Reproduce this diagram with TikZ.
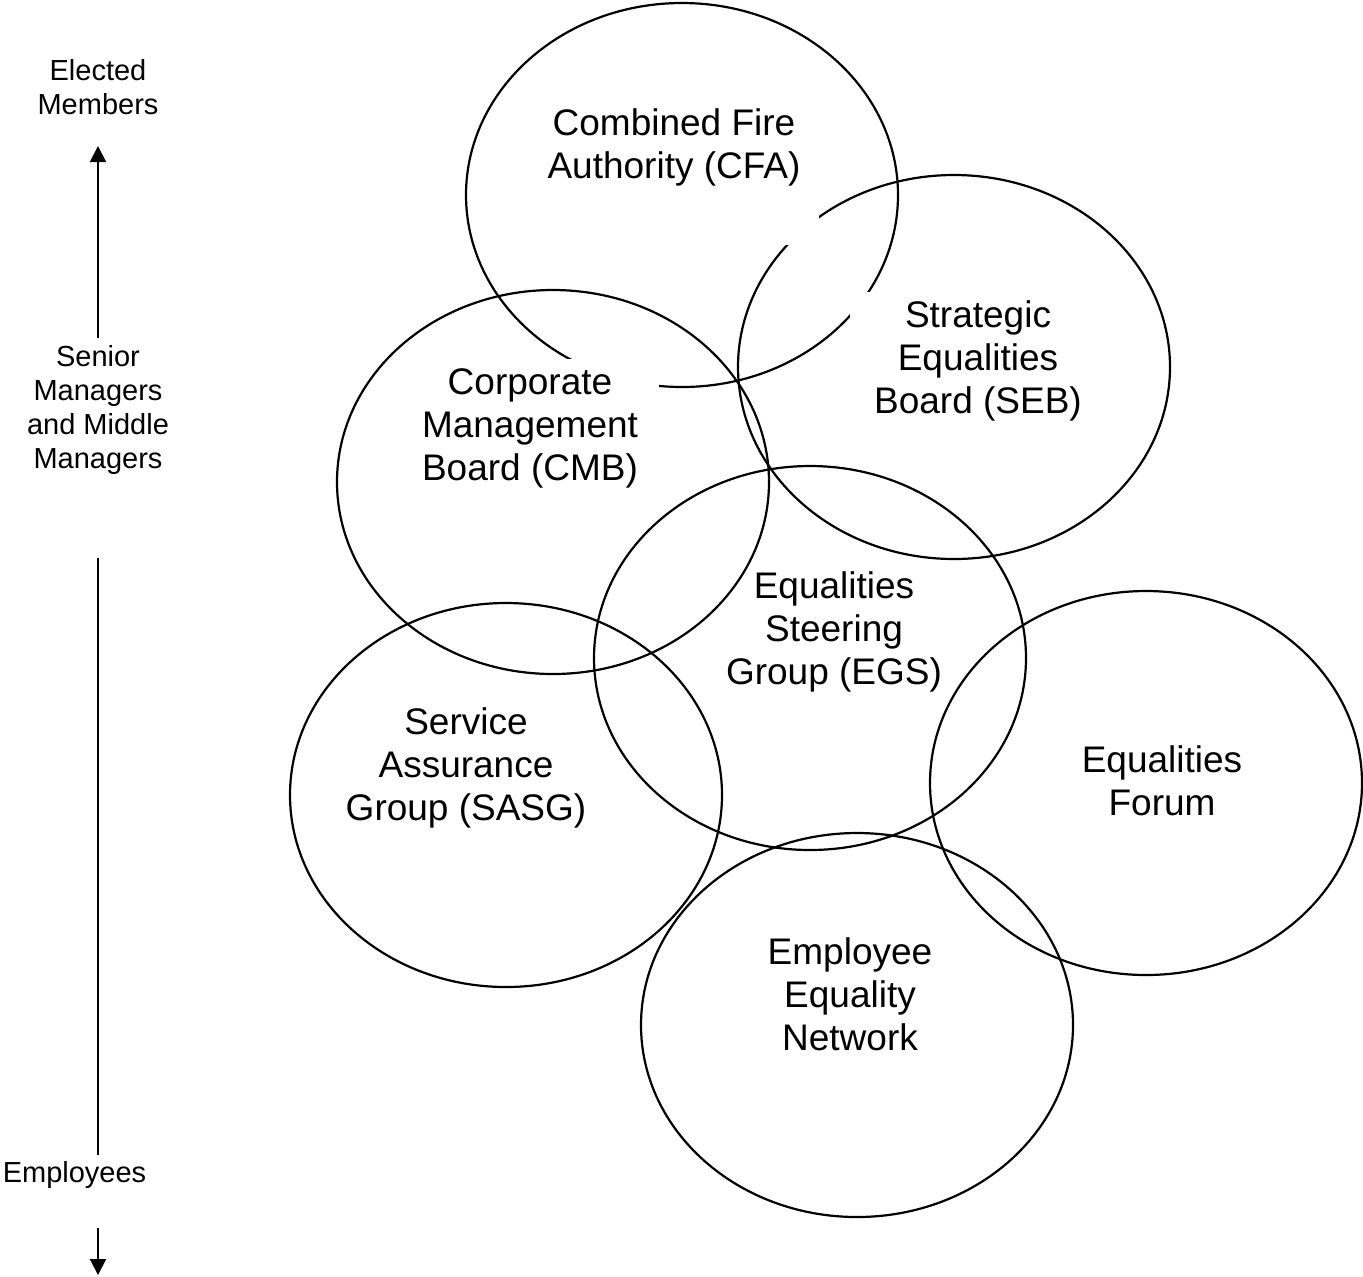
\documentclass[tikz,border=0pt]{standalone}
\usepackage{fontspec}
\setmainfont{Liberation Sans}
\usetikzlibrary{shapes.geometric,arrows.meta}
\begin{document}
\begin{tikzpicture}[x=0.5pt,y=-0.5pt,
  bubble/.style={draw=black,line width=1.1pt,ellipse,minimum width=216pt,minimum height=192pt,inner sep=0pt,outer sep=0pt},
  bigtext/.style={align=center,inner sep=0pt,font=\fontsize{18.5pt}{21.5pt}\selectfont},
  sidetext/.style={align=center,inner sep=0pt,font=\fontsize{14.5pt}{17pt}\selectfont},
  axis/.style={line width=1pt},
  tip/.style={-{Triangle[width=8pt,length=8pt]}}]
\useasboundingbox (0,0) rectangle (1363,1276);
% ellipses
\node[bubble] (cfa)  at (682,195)  {};
\node[bubble] (seb)  at (954,367)  {};
\node[bubble] (cmb)  at (553,482)  {};
\node[bubble] (egs)  at (810,658)  {};
\node[bubble] (sasg) at (506,795)  {};
\node[bubble] (ef)   at (1146,783) {};
\node[bubble] (een)  at (857,1025) {};
% white text boxes that hide parts of lines
\fill[white] (520,95) rectangle (819,245);
\fill[white] (850,292) rectangle (1110,430);
\fill[white] (400,359) rectangle (659,500);
% texts
\node[bigtext] (tcfa)  at (674,147) {Combined Fire\\Authority (CFA)};
\node[bigtext] (tseb)  at (978,361) {Strategic\\Equalities\\Board (SEB)};
\node[bigtext] (tcmb)  at (530,428) {Corporate\\Management\\Board (CMB)};
\node[bigtext] (tegs)  at (834,632) {Equalities\\Steering\\Group (EGS)};
\node[bigtext] (tsasg) at (466,768) {Service\\Assurance\\Group (SASG)};
\node[bigtext] (tef)   at (1162,781) {Equalities\\Forum};
\node[bigtext] (teen)  at (850,994) {Employee\\Equality\\Network};
% side scale
\node[sidetext] (elected) at (98,87) {Elected\\Members};
\node[sidetext] (senior)  at (98,410) {Senior\\Managers\\and Middle\\Managers};
\node[sidetext] (employees) at (74.5,1175) {Employees};
\coordinate (upA) at (98,338);
\coordinate (upB) at (98,146);
\coordinate (midA) at (98,558);
\coordinate (midB) at (98,1155);
\coordinate (dnA) at (98,1228);
\coordinate (dnB) at (98,1275);
\draw[axis,tip] (upA) -- (upB);
\draw[axis] (midA) -- (midB);
\draw[axis,tip] (dnA) -- (dnB);
\end{tikzpicture}
\end{document}
